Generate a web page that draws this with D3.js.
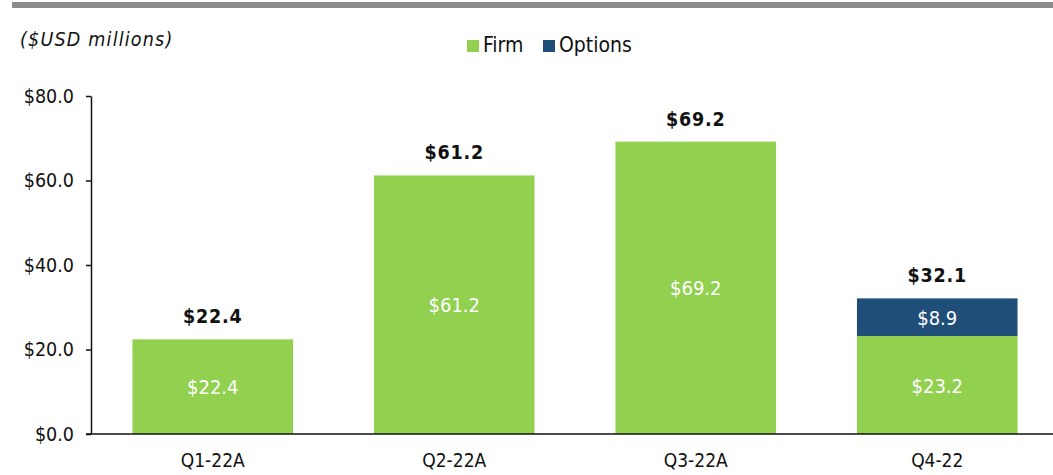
<!DOCTYPE html>
<html><head><meta charset="utf-8">
<script src="https://cdn.jsdelivr.net/npm/d3@7"></script>
<style>body{margin:0;background:#fff}svg{display:block}text{font-family:"DejaVu Sans Condensed","DejaVu Sans",sans-serif}</style>
</head><body>
<svg id="c" width="1053" height="475"></svg>
<script>
const categories = ["Q1-22A","Q2-22A","Q3-22A","Q4-22"];
const firm = [22.4, 61.2, 69.2, 23.2];
const options = [0, 0, 0, 8.9];
const totals = [22.4, 61.2, 69.2, 32.1];
const yTicks = [0, 20, 40, 60, 80];
const seriesNames = ["Firm","Options"];
const colors = {Firm:"#92d050", Options:"#1f4e79"};

const svg = d3.select("#c");
const fmt = v => "$" + v.toFixed(1);
const FONT = '"DejaVu Sans Condensed","DejaVu Sans",sans-serif';

svg.append("rect").attr("x",12).attr("y",2).attr("width",1041).attr("height",6).attr("fill","#8c8c8c");

svg.append("text").attr("x",20).attr("y",46).attr("font-size",19.5).attr("font-style","italic")
  .attr("letter-spacing",1.2)
  .attr("font-family",'"DejaVu Sans",sans-serif').attr("fill","#111").text("($USD millions)");

const x = d3.scaleBand().domain(categories).range([92,1058]).paddingInner(0.335).paddingOuter(0.1675);
const y = d3.scaleLinear().domain([0,80]).range([434,96]);

const data = categories.map((c,i)=>({cat:c, Firm:firm[i], Options:options[i], total:totals[i]}));
const stack = d3.stack().keys(seriesNames)(data);

const g = svg.append("g");
stack.forEach(s=>{
  g.selectAll(null).data(s.filter(d=>d[1]-d[0]>0)).join("rect")
    .attr("x",d=>x(d.data.cat)).attr("width",x.bandwidth())
    .attr("y",d=>y(d[1])).attr("height",d=>y(d[0])-y(d[1]))
    .attr("fill",colors[s.key]);
  g.selectAll(null).data(s.filter(d=>d[1]-d[0]>0)).join("text")
    .attr("x",d=>x(d.data.cat)+x.bandwidth()/2)
    .attr("y",d=>(y(d[0])+y(d[1]))/2)
    .attr("dy","0.38em").attr("text-anchor","middle").attr("font-size",20).attr("fill","#fff")
    .text(d=>fmt(d[1]-d[0]));
});
g.selectAll(null).data(data).join("text")
  .attr("x",d=>x(d.cat)+x.bandwidth()/2).attr("y",d=>y(d.total)-16)
  .attr("text-anchor","middle").attr("font-size",19.5).attr("font-weight","bold").attr("fill","#111")
  .attr("letter-spacing",0.8)
  .text(d=>fmt(d.total));

const ya = svg.append("g").attr("transform","translate(91,0)")
  .call(d3.axisLeft(y).tickValues(yTicks).tickFormat(fmt).tickSize(5).tickSizeOuter(0).tickPadding(12));
ya.select(".domain").attr("stroke","#111").attr("stroke-width",1.5);
ya.selectAll(".tick line").attr("stroke","#111").attr("stroke-width",1.5);
ya.selectAll(".tick text").attr("font-size",19.5).attr("fill","#111").attr("font-family",FONT).attr("dy","0.33em");

svg.append("line").attr("x1",86).attr("x2",1053).attr("y1",y(0)).attr("y2",y(0)).attr("stroke","#111").attr("stroke-width",1.5);

svg.append("g").selectAll("text").data(categories).join("text")
  .attr("x",d=>x(d)+x.bandwidth()/2).attr("y",467).attr("text-anchor","middle")
  .attr("font-size",19).attr("fill","#111").text(d=>d);

const leg = svg.append("g");
const legX = [467, 543];
seriesNames.forEach((n,i)=>{
  leg.append("rect").attr("x",legX[i]).attr("y",40).attr("width",12).attr("height",12).attr("fill",colors[n]);
  leg.append("text").attr("x",legX[i]+16).attr("y",52).attr("font-size",21).attr("fill","#111").text(n);
});
</script>
</body></html>
